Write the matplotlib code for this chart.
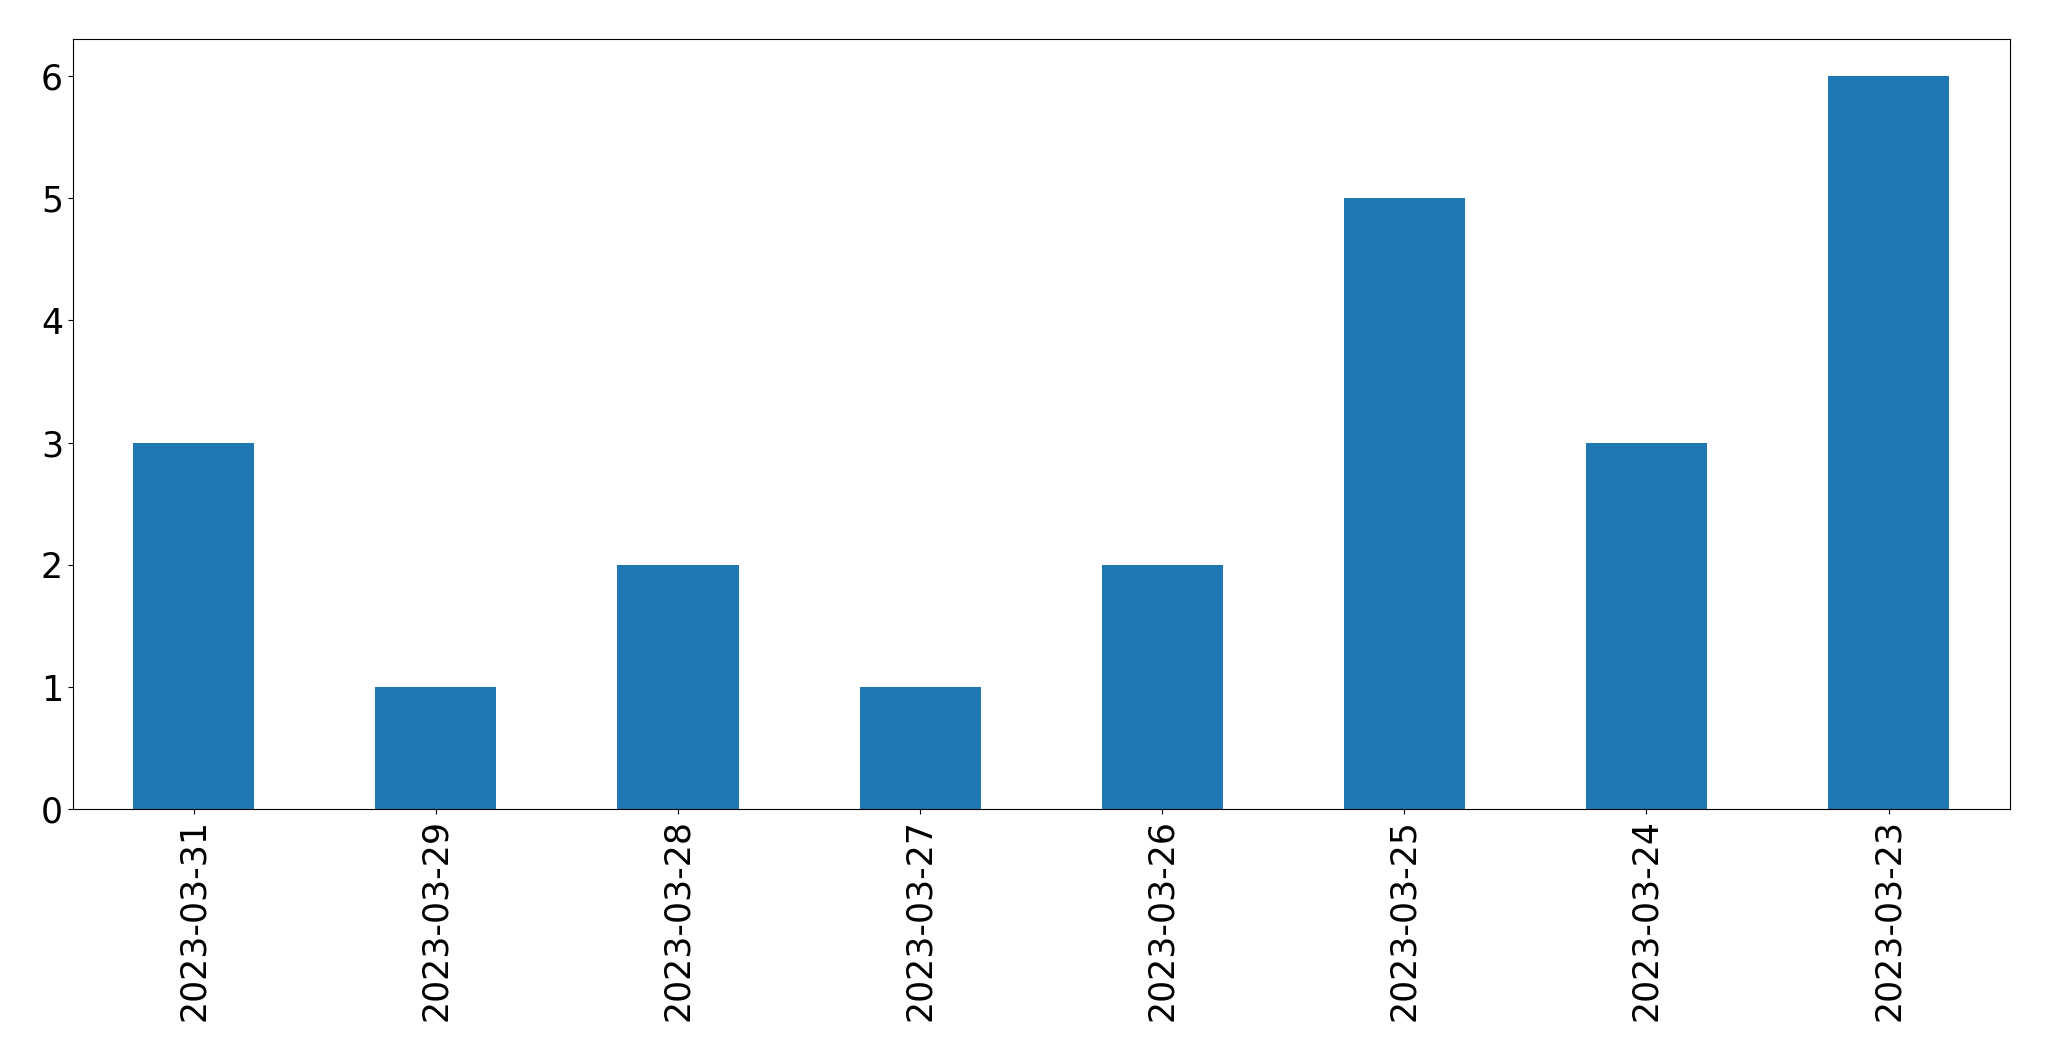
import matplotlib
matplotlib.use('Agg')
import matplotlib.pyplot as plt
import pandas as pd

# dates and counts
dates = ['2023-03-31', '2023-03-29', '2023-03-28', '2023-03-27',
         '2023-03-26', '2023-03-25', '2023-03-24', '2023-03-23']
counts = [3, 1, 2, 1, 2, 5, 3, 6]

series = pd.Series(counts, index=dates)

fig = plt.figure(figsize=(20.49, 10.61), dpi=100)
ax = fig.add_axes([0.0355, 0.2372, 0.9453, 0.7258])
series.plot(kind='bar', ax=ax, color='#1f77b4')
ax.tick_params(axis='both', labelsize=25)
ax.set_xlabel('')

fig.savefig('out.png', dpi=100)
